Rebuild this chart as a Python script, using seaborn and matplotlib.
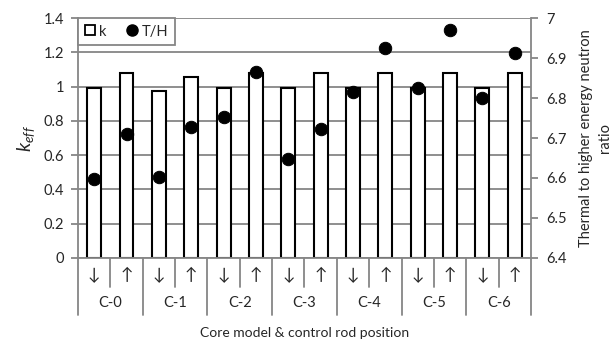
import matplotlib
matplotlib.use('Agg')
import matplotlib.pyplot as plt
import matplotlib.transforms as mtransforms
from matplotlib.lines import Line2D
from matplotlib.ticker import FormatStrFormatter
import numpy as np
import pandas as pd
import seaborn as sns

# data
cores = ['C-0', 'C-1', 'C-2', 'C-3', 'C-4', 'C-5', 'C-6']
rod_pos = ['↓', '↑']
k_eff = [0.990, 1.078, 0.977, 1.055, 0.992, 1.080,
         0.993, 1.077, 0.990, 1.077, 0.993, 1.077, 0.993, 1.080]
th_ratio = [6.597, 6.710, 6.603, 6.728, 6.753, 6.864,
            6.647, 6.723, 6.815, 6.925, 6.826, 6.969, 6.801, 6.912]

cases = [f'{c} {r}' for c in cores for r in rod_pos]
df = pd.DataFrame({'case': cases, 'k': k_eff, 'th': th_ratio})
df['pos'] = np.arange(len(df))

sns.set_style('white')
plt.rcParams['font.family'] = ['Lato', 'DejaVu Sans']
plt.rcParams['mathtext.fontset'] = 'custom'
plt.rcParams['mathtext.it'] = 'Lato:italic'
plt.rcParams['mathtext.rm'] = 'Lato'

grey = '#868686'
fs = 10

fig = plt.figure(figsize=(6.15, 3.45), dpi=100)
ax = fig.add_axes([0.1268, 0.2522, 0.7366, 0.6956])

sns.barplot(data=df, x='case', y='k', ax=ax, color='white', saturation=1,
            edgecolor='black', linewidth=1.5, width=0.43, zorder=2)
ax.set_axisbelow(True)
ax.set_ylim(0, 1.4)
ax.set_yticks(np.arange(0, 1.41, 0.2))
ax.yaxis.set_major_formatter(FormatStrFormatter('%g'))
ax.grid(axis='y', color=grey, linewidth=1.3)
ax.set_xticks([])
ax.set_xlabel('')
ax.set_ylabel(r'$k_{eff}$', fontsize=14, labelpad=5)
ax.tick_params(axis='y', left=True, length=5, color=grey, width=1.3,
               labelsize=fs + 0.5, pad=5)
for s in ['top', 'right']:
    ax.spines[s].set_visible(False)
for s in ['left', 'bottom']:
    ax.spines[s].set_color(grey)
    ax.spines[s].set_linewidth(1.3)

ax2 = ax.twinx()
sns.scatterplot(data=df, x='pos', y='th', ax=ax2, color='black', s=80,
                edgecolor='black', zorder=3, legend=False)
ax2.set_ylim(6.4, 7.0)
ax2.set_yticks(np.arange(6.4, 7.01, 0.1))
ax2.yaxis.set_major_formatter(FormatStrFormatter('%g'))
ax2.set_ylabel('Thermal to higher energy neutron\nratio', fontsize=fs + 0.5,
               labelpad=9, linespacing=1.45)
ax2.tick_params(axis='y', right=True, length=5, color=grey, width=1.3,
                labelsize=fs + 0.5, pad=6)
for s in ['top', 'left', 'bottom']:
    ax2.spines[s].set_visible(False)
ax2.spines['right'].set_color(grey)
ax2.spines['right'].set_linewidth(1.3)
ax.set_xlim(-0.5, len(df) - 0.5)

# two-level category axis
trans = mtransforms.blended_transform_factory(ax.transData, ax.transAxes)
for i in range(len(df) + 1):
    y_end = -0.2375 if i % 2 == 0 else -0.121
    ax.plot([i - 0.5, i - 0.5], [0, y_end], transform=trans, clip_on=False,
            color=grey, linewidth=1.3)
for i, r in enumerate(rod_pos * len(cores)):
    ax.text(i, -0.072, r, transform=trans, ha='center', va='center',
            fontsize=fs + 2)
for j, c in enumerate(cores):
    ax.text(2 * j + 0.5, -0.1875, c, transform=trans, ha='center',
            va='center', fontsize=fs + 0.5)

fig.text(0.4951, 0.035, 'Core model & control rod position', ha='center',
         va='center', fontsize=fs)

handles = [
    Line2D([], [], marker='s', linestyle='none', markerfacecolor='white',
           markeredgecolor='black', markeredgewidth=1.3, markersize=7.5),
    Line2D([], [], marker='o', linestyle='none', color='black', markersize=8),
]
leg = ax2.legend(handles, ['k', 'T/H'], loc='upper left',
                 bbox_to_anchor=(0, 1), borderaxespad=0, ncol=2,
                 handlelength=0.7, handletextpad=0.3, columnspacing=1.4,
                 borderpad=0.45, fancybox=False, framealpha=1,
                 edgecolor=grey, fontsize=fs + 0.5)
leg.get_frame().set_linewidth(1.3)

fig.savefig('out.png', dpi=100)
